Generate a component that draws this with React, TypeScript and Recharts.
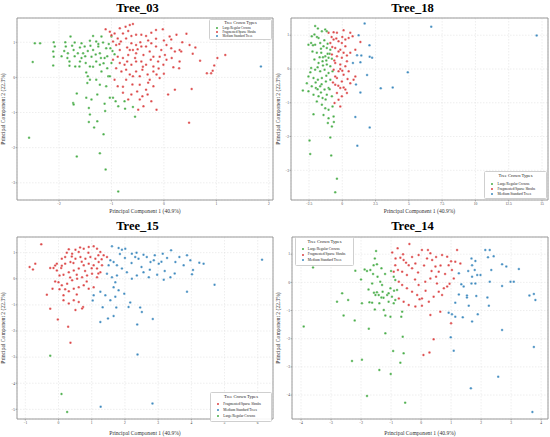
import { CartesianGrid, ReferenceArea, Scatter, ScatterChart, XAxis, YAxis } from "recharts";

type Pt = [number, number];

const CROWN_TYPES = ["Large/Regular Crowns", "Fragmented/Sparse Shrubs", "Medium Standard Trees"];
const TYPE_COLORS = ["#2ca02c", "#d62728", "#1f77b4"];
const X_LABEL = "Principal Component 1 (40.9%)";
const Y_LABEL = "Principal Component 2 (22.3%)";
const LEGEND_TITLE = "Tree Crown Types";

// Tree_03
const tree03Large: Pt[] = [
  [-2.46, 0.97], [-2.36, 0.97], [-2.5, 0.44], [-2.57, -1.72], [-2.1, 1.0], [-2.08, 0.88], [-2.11, 0.74],
  [-2.1, 0.59], [-2.11, 0.34], [-1.88, 1.0], [-1.87, 0.88], [-1.83, 0.69], [-1.84, 0.55], [-1.8, 0.45],
  [-1.8, 0.33], [-1.78, 1.16], [-1.7, 0.99], [-1.72, 0.78], [-1.64, 0.69], [-1.69, 0.31], [-1.61, 0.31],
  [-1.57, 0.97], [-1.57, 0.55], [-1.54, 0.69], [-1.51, 0.88], [-1.49, 0.41], [-1.48, 0.14], [-1.45, 0.03],
  [-1.46, -0.16], [-1.41, -0.07], [-1.41, 0.31], [-1.38, 0.59], [-1.35, 0.78], [-1.41, 1.04], [-1.35, 1.18],
  [-1.29, 1.02], [-1.25, 0.88], [-1.22, 0.69], [-1.29, 0.45], [-1.22, 0.36], [-1.19, 1.16], [-1.16, 0.99],
  [-1.1, 0.83], [-1.13, 0.55], [-1.19, 0.17], [-1.29, -0.07], [-1.22, -0.21], [-1.1, -0.25], [-1.06, 0.03],
  [-1.08, 0.26], [-1.0, 1.16], [-1.02, 0.83], [-0.94, 0.66], [-1.0, 0.41], [-1.03, 0.03], [-1.66, -0.46],
  [-1.73, -0.73], [-1.72, -0.77], [-1.48, -0.58], [-1.38, -0.63], [-1.27, -0.49], [-1.43, -0.87],
  [-1.41, -1.06], [-1.43, -1.27], [-1.33, -1.43], [-1.27, -1.25], [-1.13, -0.75], [-1.03, -0.58],
  [-0.97, -0.58], [-1.12, -0.96], [-0.92, -0.68], [-0.75, -0.68], [-0.74, -0.89], [-0.55, -1.12],
  [-0.59, -0.84], [-0.87, -0.82], [-1.15, -1.62], [-1.22, -2.16], [-1.66, -2.25], [-1.11, -2.62],
  [-0.87, -3.25], [-1.95, 0.6], [-1.9, 0.75], [-1.75, 0.9], [-1.6, 0.85], [-1.45, 0.75], [-1.3, 0.65],
  [-1.2, 0.55], [-1.15, 0.4], [-1.35, 0.3], [-1.05, 0.95], [-1.25, 0.95], [-1.4, 0.9], [-1.5, 0.6],
  [-1.6, 0.45], [-1.7, 0.6], [-0.98, 0.75], [-1.08, 0.6],
];
const tree03Frag: Pt[] = [
  [-1.11, 1.37], [-1.03, 1.3], [-0.94, 1.25], [-0.84, 1.4], [-0.73, 1.44], [-0.65, 1.49], [-0.59, 1.52],
  [-0.68, 1.32], [-0.78, 1.25], [-0.88, 1.11], [-0.97, 1.02], [-0.91, 0.92], [-0.82, 1.02], [-0.72, 1.11],
  [-0.62, 1.18], [-0.53, 1.21], [-0.43, 1.21], [-0.34, 1.18], [-0.24, 1.27], [-0.15, 1.35], [-0.02, 1.37],
  [0.11, 1.16], [0.24, 1.21], [0.43, 1.24], [0.49, 0.92], [0.3, 0.78], [0.14, 1.08], [0.05, 0.92],
  [0.14, 0.83], [0.21, 0.74], [0.33, 0.74], [0.55, 0.67], [0.69, 0.47], [0.82, 0.12], [0.9, 0.12],
  [0.93, 0.19], [0.96, 0.34], [1.02, 0.55], [1.17, 0.64], [0.53, -0.33], [0.21, -0.35], [0.08, -0.49],
  [0.18, 0.29], [0.29, 0.26], [0.48, -1.29], [-0.14, -0.92], [-0.39, -0.82], [-0.41, -0.54], [-0.34, -0.35],
  [-0.2, -0.25], [-0.08, -0.02], [-0.14, 0.08], [-0.27, -0.07], [-0.46, -0.21], [-0.51, -0.4], [-0.62, -0.49],
  [-0.78, -0.27], [-0.72, -0.07], [-0.59, 0.03], [-0.53, 0.17], [-0.41, 0.22], [-0.34, 0.36], [-0.2, 0.31],
  [-0.11, 0.45], [-0.08, 0.59], [-0.2, 0.59], [-0.27, 0.74], [-0.39, 0.64], [-0.53, 0.69], [-0.59, 0.78],
  [-0.68, 0.64], [-0.78, 0.55], [-0.84, 0.41], [-0.91, 0.26], [-0.81, 0.17], [-0.72, 0.22], [-0.62, 0.36],
  [-0.53, 0.45], [-0.43, 0.45], [-0.34, 0.88], [-0.24, 0.97], [-0.15, 0.88], [-0.05, 0.78], [0.02, 0.64],
  [-0.01, 0.36], [0.05, 0.5], [-0.43, 0.88], [-0.53, 0.92], [-0.62, 0.97], [-0.65, 0.78], [-0.84, 0.78],
  [-0.88, 0.59], [-0.97, 0.5], [-0.75, 0.36], [-0.65, 0.08], [-0.46, 0.03], [-0.31, 0.08], [-0.2, 0.17],
  [-0.94, -0.07], [-0.88, -0.25], [-0.78, -0.44], [-0.68, -0.63], [-0.46, -0.63], [-0.31, -0.49],
  [-0.24, -0.68], [-0.49, -0.92], [-0.45, 1.0], [-0.3, 1.05], [-0.15, 1.1], [0.0, 1.05], [0.35, 1.0],
  [0.6, 0.85], [0.15, 0.55], [0.3, 0.45], [-0.1, 0.25], [-0.4, 0.3], [-0.7, 0.45], [-0.55, 0.55],
  [-0.25, 0.5], [-0.6, -0.2], [-0.3, -0.15], [0.0, 0.1], [-1.0, 1.2], [-0.85, 0.95], [-0.7, 0.85], [-0.5, 0.8],
];
const tree03Medium: Pt[] = [[1.85, 0.31]];

// Tree_18
const tree18Large: Pt[] = [
  [-2.04, 1.27], [-1.83, 1.2], [-1.53, 1.12], [-1.28, 1.17], [-1.16, 1.12], [-2.29, 0.97], [-2.09, 1.02],
  [-1.78, 0.92], [-2.54, 0.72], [-2.34, 0.77], [-2.04, 0.72], [-1.66, 0.77], [-1.41, 0.67], [-1.16, 0.62],
  [-0.9, 0.57], [-2.24, 0.52], [-1.91, 0.48], [-1.58, 0.48], [-1.28, 0.38], [-1.03, 0.33], [-0.78, 0.3],
  [-2.09, 0.28], [-1.78, 0.18], [-1.48, 0.23], [-1.16, 0.13], [-0.9, 0.08], [-2.34, 0.03], [-2.04, -0.02],
  [-1.66, -0.07], [-1.33, -0.02], [-1.03, -0.12], [-0.73, -0.07], [-2.54, -0.22], [-2.16, -0.27],
  [-1.83, -0.32], [-1.53, -0.27], [-1.23, -0.37], [-0.9, -0.32], [-2.66, -0.42], [-2.29, -0.51],
  [-1.98, -0.56], [-1.66, -0.51], [-1.33, -0.61], [-1.03, -0.56], [-2.96, -0.64], [-2.54, -0.66],
  [-2.16, -0.76], [-1.78, -0.81], [-1.48, -0.86], [-1.16, -0.76], [-0.78, -0.81], [-1.91, -0.96],
  [-1.53, -1.06], [-1.28, -1.16], [-1.03, -1.21], [-0.73, -1.11], [-2.16, -1.34], [-1.41, -1.36],
  [-1.03, -1.46], [-0.65, -1.41], [-1.08, -1.6], [-0.78, -1.7], [-0.63, -1.57], [-0.9, -2.03],
  [-2.46, -2.12], [-2.41, -2.52], [-0.83, -2.56], [-0.4, -3.25], [-0.53, -3.65], [-1.9, 0.95],
  [-1.6, 0.6], [-1.35, 0.85], [-1.1, 0.75], [-0.95, 0.45], [-2.2, 0.7], [-1.45, 0.35], [-1.2, 0.25],
  [-1.7, 0.35], [-1.85, 0.05], [-1.45, 0.1], [-1.2, -0.2], [-2.0, -0.4], [-1.6, -0.7], [-1.25, -0.9],
  [-0.95, -0.6], [-2.4, -0.1], [-1.1, 0.45], [-1.55, -0.45], [-1.85, -0.6],
];
const tree18Frag: Pt[] = [
  [-1.03, 1.07], [-0.65, 1.09], [-0.4, 1.07], [0.1, 1.15], [0.6, 1.07], [0.78, 0.97], [1.36, 0.8],
  [0.98, 0.57], [-0.65, 0.87], [-0.28, 0.82], [-0.03, 0.77], [0.23, 0.67], [-0.53, 0.62], [-0.15, 0.57],
  [0.6, 0.48], [-0.78, 0.43], [-0.4, 0.38], [-0.03, 0.33], [0.35, 0.23], [-0.53, 0.18], [-0.15, 0.13],
  [-0.65, -0.02], [-0.28, -0.07], [0.1, -0.17], [0.85, -0.32], [-0.4, -0.27], [-0.03, -0.37],
  [-0.53, -0.47], [-0.15, -0.56], [0.23, -0.61], [-0.4, -0.71], [-0.03, -0.81], [0.35, -0.71],
  [-0.28, -0.91], [-0.58, -1.01], [-0.15, -1.11], [0.48, 0.92], [0.23, 0.87], [-0.9, 0.77], [0.1, 0.48],
  [-0.28, 0.52], [0.23, 0.08], [0.48, -0.07], [0.98, -0.22], [0.6, -0.42], [-0.53, -0.22], [-0.8, 0.95],
  [-0.45, 0.9], [0.0, 0.95], [0.35, 0.4], [-0.6, 0.25], [0.0, -0.05], [-0.15, 0.0], [0.4, -0.3],
  [-0.7, -0.4], [-0.3, -0.5], [0.1, -0.55], [-0.75, 0.65],
];
const tree18Medium: Pt[] = [
  [1.68, 1.35], [6.68, 1.25], [14.6, 0.99], [1.23, 1.0], [2.04, 0.7], [1.11, 0.41], [1.43, 0.4],
  [2.06, 0.36], [2.24, 0.33], [1.36, 0.2], [0.8, 0.18], [1.86, -0.18], [1.03, -0.46], [4.92, -0.1],
  [2.89, -0.57], [3.79, -0.55], [1.36, -0.7], [0.98, -1.42], [2.06, -1.73], [1.13, -2.27],
];

// Tree_15
const tree15Frag: Pt[] = [
  [-0.52, 1.32], [-0.87, 0.45], [-0.77, 0.36], [-0.7, 0.58], [-0.15, 0.41], [-0.1, 0.51], [-0.05, 0.58],
  [0.1, 0.77], [0.2, 0.83], [0.31, 1.13], [0.41, 0.96], [0.51, 1.11], [0.61, 1.03], [0.76, 1.15],
  [0.91, 1.22], [1.06, 1.25], [1.16, 1.15], [1.26, 1.03], [1.36, 0.9], [1.46, 0.83], [0.08, 0.41],
  [0.2, 0.58], [0.36, 0.64], [0.51, 0.77], [0.66, 0.83], [0.81, 0.77], [0.96, 0.83], [1.11, 0.77],
  [1.21, 0.64], [1.31, 0.52], [0.03, 0.13], [0.15, 0.15], [0.31, 0.25], [0.46, 0.32], [0.61, 0.39],
  [0.76, 0.52], [0.91, 0.58], [1.06, 0.52], [1.16, 0.39], [1.26, 0.25], [0.0, -0.13], [0.1, -0.25],
  [0.26, -0.19], [0.41, -0.06], [0.56, 0.0], [0.71, 0.06], [0.86, 0.13], [1.01, 0.19], [1.16, 0.06],
  [-0.18, -0.38], [-0.35, -0.61], [0.03, -0.4], [0.15, -0.63], [0.31, -0.48], [0.46, -0.38], [0.61, -0.32],
  [0.76, -0.25], [0.91, -0.38], [1.06, -0.32], [0.15, -0.82], [0.31, -0.95], [0.46, -0.82], [0.61, -0.89],
  [0.74, -1.08], [0.71, -1.14], [0.51, -1.2], [-0.25, -1.15], [-0.02, -1.56], [0.29, -1.84], [0.36, -2.45],
  [-0.25, 0.41], [-0.05, 0.32], [0.25, 1.0], [0.45, 0.6], [0.7, 0.65], [0.9, 1.0], [1.0, 0.4], [1.2, 0.9],
  [0.55, 0.15], [0.8, 0.3], [0.35, 0.05], [0.1, 0.5], [-0.1, -0.1], [0.2, -0.4], [0.55, -0.6], [0.85, -0.1],
  [1.2, 0.2], [1.3, 0.75], [0.65, 1.2], [0.4, 0.85],
];
const tree15Medium: Pt[] = [
  [1.61, 1.25], [1.81, 1.18], [1.91, 1.11], [2.01, 1.15], [2.21, 0.96], [2.31, 0.83], [2.41, 0.77],
  [2.56, 0.92], [2.66, 0.83], [2.77, 0.64], [2.87, 0.71], [3.02, 0.58], [3.14, 0.96], [3.27, 0.8],
  [3.39, 1.09], [3.52, 0.64], [3.64, 0.83], [3.77, 0.52], [3.87, 0.9], [3.97, 0.71], [4.05, 0.34],
  [4.24, 0.61], [4.37, 0.58], [6.13, 0.73], [4.7, -0.23], [3.87, -0.5], [4.02, 0.17], [3.37, 0.06],
  [3.17, -0.04], [2.97, 0.15], [2.72, 0.06], [2.56, 0.25], [2.36, 0.13], [2.21, 0.0], [2.06, 0.25],
  [1.91, 0.39], [1.76, 0.52], [1.66, 0.64], [1.56, 0.71], [1.51, 0.52], [1.46, 0.19], [1.61, 0.06],
  [1.76, 0.13], [1.71, -0.13], [1.66, -0.32], [1.81, -0.44], [1.71, -0.69], [1.56, -0.82], [1.41, -0.63],
  [1.26, -0.5], [1.06, -0.63], [1.03, -0.83], [1.33, -1.09], [1.49, -1.52], [1.26, -1.66], [1.66, -1.43],
  [1.74, -1.1], [1.98, -0.57], [2.11, -1.08], [2.16, -0.91], [2.46, -1.1], [2.51, -1.27], [2.84, -1.54],
  [2.37, -1.75], [2.38, -2.9], [1.27, -4.9], [2.83, -4.78], [2.2, 0.6], [2.5, 0.45], [2.9, 0.9],
  [3.2, 0.3], [3.5, 0.2], [2.0, 0.8], [1.85, 0.95], [2.35, 1.0], [2.75, 0.35], [3.1, 0.65],
];
const tree15Large: Pt[] = [[-0.25, -2.95], [0.09, -4.41], [0.26, -5.1]];

// Tree_14
const tree14Large: Pt[] = [
  [-3.91, -1.57], [-3.6, 0.53], [-2.8, -0.69], [-2.63, -0.39], [-2.43, -0.63], [-2.58, -1.18], [-2.21, -1.35],
  [-2.19, 0.41], [-2.3, -2.79], [-1.97, -2.75], [-1.97, -0.74], [-1.88, 0.46], [-1.8, 0.4], [-1.72, -0.71],
  [-1.74, -1.65], [-1.69, 0.44], [-1.63, -0.04], [-1.58, 0.61], [-1.54, 0.85], [-1.5, 1.11], [-1.47, 0.64],
  [-1.57, -0.37], [-1.47, -0.35], [-1.41, -0.45], [-1.54, -0.96], [-1.63, -0.72], [-1.39, -0.74],
  [-1.32, 0.5], [-1.3, -0.09], [-1.28, -0.33], [-1.32, -0.54], [-1.24, -0.98], [-1.19, -1.18],
  [-1.08, -0.69], [-1.02, -0.21], [-0.97, -0.51], [-0.91, -0.74], [-0.86, 0.08], [-0.91, 0.2],
  [-1.02, -1.22], [-1.19, -1.81], [-0.93, -2.44], [-0.69, -2.85], [-0.58, -2.52], [-0.61, -1.93],
  [-0.63, -1.04], [-0.66, -1.22], [-1.39, -3.11], [-1.01, -3.25], [-1.8, -4.03], [-0.53, -4.27],
  [-1.52, -0.45], [-1.13, -0.45], [-1.36, 0.02], [-1.08, -0.39], [-0.86, -0.63], [-0.8, -0.27],
  [-1.45, 0.2], [-1.2, 0.3], [-1.6, 0.3], [-1.75, -0.25], [-1.25, -0.55], [-1.0, 0.4], [-0.9, -0.3], [-2.0, 0.1],
];
const tree14Frag: Pt[] = [
  [-0.96, 1.06], [-0.78, 1.21], [-0.39, 1.36], [-0.69, 0.87], [-0.58, 0.79], [-0.41, 0.61], [-0.86, 0.61],
  [-0.77, 0.44], [-0.91, 0.38], [-0.63, 0.38], [-0.47, 0.26], [-0.3, 0.5], [-0.19, 0.67], [-0.08, 0.97],
  [0.03, 1.15], [0.23, 1.15], [0.31, 1.03], [0.37, 0.79], [0.48, 0.56], [0.59, 0.38], [0.7, 0.97],
  [0.87, 0.91], [0.92, 0.61], [1.03, 0.44], [1.2, 1.15], [1.14, 0.73], [1.31, 0.67], [1.09, 0.14],
  [0.87, -0.15], [0.76, -0.21], [0.59, -0.33], [0.42, -0.51], [0.26, -0.69], [0.03, -0.57], [-0.13, -0.45],
  [-0.3, -0.33], [-0.47, -0.21], [-0.63, -0.09], [-0.74, 0.02], [-0.08, -0.09], [0.14, 0.02], [0.31, 0.14],
  [0.53, -0.04], [-0.41, -0.8], [-0.19, -0.86], [0.03, -0.83], [0.31, -1.16], [0.64, -1.04], [0.42, -2.02],
  [0.08, -2.58], [0.28, -2.49], [1.0, -1.45], [0.7, -0.45], [-0.58, -0.69], [-0.74, -0.57], [-0.6, 1.0],
  [-0.3, 0.9], [-0.1, 0.35], [0.1, 0.6], [0.2, 0.85], [0.5, 0.9], [0.8, 0.3], [1.0, 0.75], [-0.2, 0.1],
  [0.15, -0.3], [0.5, 0.2], [0.95, -0.05], [-0.5, 0.7], [0.65, 0.6], [-0.85, 0.85], [0.35, 0.4], [-0.05, -0.6],
];
const tree14Medium: Pt[] = [
  [1.34, -0.07], [1.42, -0.15], [1.26, -0.43], [1.14, -0.72], [0.92, -1.08], [1.03, -1.13], [1.14, -1.22],
  [1.39, -1.24], [1.53, -0.47], [1.53, -0.54], [1.59, -0.83], [1.68, 0.85], [1.7, 0.61], [1.81, 0.76],
  [1.79, 0.44], [1.7, 0.2], [1.68, -0.04], [1.81, -0.04], [1.87, 0.26], [1.98, 0.26], [1.84, -0.48],
  [1.89, -1.13], [1.7, -1.39], [1.57, 0.4], [2.14, 1.15], [2.29, 1.15], [2.42, 0.93], [2.23, 0.89],
  [2.34, 0.44], [2.29, 0.02], [2.21, -0.54], [2.26, -0.83], [2.7, 0.64], [2.84, 0.56], [2.7, -0.13],
  [2.7, -1.69], [2.98, 0.02], [3.09, 0.02], [3.26, 0.47], [3.61, -0.47], [3.76, -0.41], [3.81, -0.63],
  [3.76, -2.29], [2.57, -3.35], [1.66, -3.76], [0.99, -1.95], [1.09, -2.43], [3.71, -4.6], [1.26, 0.32],
];

const tree03X = [-2, -1, 0, 1, 2];
const tree03Y = [-3, -2, -1, 0, 1];
const tree18X = [-2.5, 0, 2.5, 5, 7.5, 10, 12.5, 15];
const tree18Y = [-3, -2, -1, 0, 1];
const tree15X = [-1, 0, 1, 2, 3, 4, 5, 6];
const tree15Y = [-5, -4, -3, -2, -1, 0, 1];
const tree14X = [-4, -3, -2, -1, 0, 1, 2, 3, 4];
const tree14Y = [-4, -3, -2, -1, 0, 1];

const FONT = "'Liberation Serif', 'Times New Roman', serif";

const toRows = (pts: Pt[]) => pts.map(([x, y]) => ({ x, y }));
const fmt = (v: number) => String(v).replace("-", "\u2212");

type LegendBox = {
  left: number;
  top: number;
  width: number;
  pad: number;
  titleSize: number;
  titleLh: number;
  gap: number;
  itemSize: number;
  itemLh: number;
};

type PanelProps = {
  title: string;
  left: number;
  top: number;
  height: number;
  plotTop: number;
  titleY: number;
  yAxisWidth: number;
  xAxisHeight: number;
  series: Pt[][]; // indexed like CROWN_TYPES
  order: number[];
  xDomain: [number, number];
  yDomain: [number, number];
  xTicks: number[];
  yTicks: number[];
  legend: LegendBox;
};

function Dot(props: any) {
  const { cx, cy, fill } = props;
  if (cx == null || cy == null) return null;
  return <circle cx={cx} cy={cy} r={1.25} fill={fill} fillOpacity={0.85} stroke="#fff" strokeWidth={0.3} />;
}

function Panel(p: PanelProps) {
  const width = 275;
  const tickStyle = { fontSize: 3.6, fill: "#444", fontFamily: FONT };
  const lg = p.legend;
  return (
    <div style={{ position: "absolute", left: p.left, top: p.top, width, height: p.height }}>
      <div
        style={{
          position: "absolute",
          left: 0,
          width,
          top: p.titleY - 7,
          height: 14,
          lineHeight: "14px",
          textAlign: "center",
          fontWeight: "bold",
          fontSize: 12.5,
          color: "#000",
        }}
      >
        {p.title}
      </div>
      <ScatterChart width={width} height={p.height} margin={{ top: p.plotTop, right: 2, left: 0, bottom: 0 }}>
        <CartesianGrid strokeDasharray="1.5 1.5" stroke="#dcdcdc" strokeWidth={0.5} />
        <XAxis
          type="number"
          dataKey="x"
          domain={p.xDomain}
          ticks={p.xTicks}
          interval={0}
          allowDataOverflow
          height={p.xAxisHeight}
          axisLine={false}
          tickSize={1.5}
          tickMargin={0.5}
          tickLine={{ stroke: "#555", strokeWidth: 0.4 }}
          tick={tickStyle}
          tickFormatter={fmt}
          label={{ value: X_LABEL, position: "insideBottom", offset: 2, style: { fontSize: 5.6, fill: "#333", fontFamily: FONT } }}
        />
        <YAxis
          type="number"
          dataKey="y"
          domain={p.yDomain}
          ticks={p.yTicks}
          interval={0}
          allowDataOverflow
          width={p.yAxisWidth}
          axisLine={false}
          tickSize={1.5}
          tickMargin={0.5}
          tickLine={{ stroke: "#555", strokeWidth: 0.4 }}
          tick={tickStyle}
          tickFormatter={fmt}
          label={{
            value: Y_LABEL,
            angle: -90,
            position: "insideLeft",
            offset: 3,
            style: { fontSize: 5.6, fill: "#333", fontFamily: FONT, textAnchor: "middle" },
          }}
        />
        {p.order.map((k) => (
          <Scatter
            key={CROWN_TYPES[k]}
            name={CROWN_TYPES[k]}
            data={toRows(p.series[k])}
            fill={TYPE_COLORS[k]}
            shape={<Dot />}
            isAnimationActive={false}
          />
        ))}
        <ReferenceArea
          x1={p.xDomain[0]}
          x2={p.xDomain[1]}
          y1={p.yDomain[0]}
          y2={p.yDomain[1]}
          fill="none"
          stroke="#9a9a9a"
          strokeWidth={1}
          ifOverflow="visible"
        />
      </ScatterChart>
      <div
        style={{
          position: "absolute",
          left: lg.left,
          top: lg.top,
          width: lg.width,
          boxSizing: "border-box",
          padding: `${lg.pad}px 0 ${lg.pad + 0.8}px 0`,
          background: "rgba(255,255,255,0.9)",
          border: "0.5px solid #cfcfcf",
          borderRadius: 1.5,
          color: "#222",
        }}
      >
        <div style={{ fontSize: lg.titleSize, lineHeight: `${lg.titleLh}px`, textAlign: "center", marginBottom: lg.gap }}>
          {LEGEND_TITLE}
        </div>
        {p.order.map((k) => (
          <div key={k} style={{ display: "flex", alignItems: "center", height: lg.itemLh, paddingLeft: lg.width * 0.1 }}>
            <span
              style={{
                display: "inline-block",
                width: 1.8,
                height: 1.8,
                borderRadius: "50%",
                background: TYPE_COLORS[k],
                opacity: 0.85,
                marginRight: lg.width * 0.07,
              }}
            />
            <span style={{ fontSize: lg.itemSize, lineHeight: `${lg.itemLh}px`, whiteSpace: "nowrap" }}>{CROWN_TYPES[k]}</span>
          </div>
        ))}
      </div>
    </div>
  );
}

export default function App() {
  return (
    <div
      style={{
        position: "fixed",
        left: 0,
        top: 0,
        width: 550,
        height: 437,
        background: "#fff",
        fontFamily: FONT,
        overflow: "hidden",
      }}
    >
      <Panel
        title="Tree_03"
        left={0}
        top={0}
        height={215}
        plotTop={18}
        titleY={8}
        yAxisWidth={17}
        xAxisHeight={15}
        series={[tree03Large, tree03Frag, tree03Medium]}
        order={[0, 1, 2]}
        xDomain={[-2.8, 2.08]}
        yDomain={[-3.49, 1.69]}
        xTicks={tree03X}
        yTicks={tree03Y}
        legend={{ left: 209, top: 19, width: 63, pad: 0.5, titleSize: 4.4, titleLh: 4.5, gap: 1, itemSize: 3.1, itemLh: 4 }}
      />
      <Panel
        title="Tree_18"
        left={275}
        top={0}
        height={215}
        plotTop={18}
        titleY={8}
        yAxisWidth={16}
        xAxisHeight={15}
        series={[tree18Large, tree18Frag, tree18Medium]}
        order={[0, 1, 2]}
        xDomain={[-3.85, 15.45]}
        yDomain={[-3.88, 1.51]}
        xTicks={tree18X}
        yTicks={tree18Y}
        legend={{ left: 209, top: 171, width: 63, pad: 0.5, titleSize: 4.6, titleLh: 5.5, gap: 3.5, itemSize: 3.5, itemLh: 5 }}
      />
      <Panel
        title="Tree_15"
        left={0}
        top={215}
        height={222}
        plotTop={22}
        titleY={11}
        yAxisWidth={17}
        xAxisHeight={18}
        series={[tree15Large, tree15Frag, tree15Medium]}
        order={[1, 2, 0]}
        xDomain={[-1.25, 6.46]}
        yDomain={[-5.37, 1.6]}
        xTicks={tree15X}
        yTicks={tree15Y}
        legend={{ left: 210, top: 177, width: 62, pad: 1, titleSize: 4.6, titleLh: 6, gap: 1, itemSize: 3.5, itemLh: 6 }}
      />
      <Panel
        title="Tree_14"
        left={275}
        top={215}
        height={222}
        plotTop={22}
        titleY={11}
        yAxisWidth={17}
        xAxisHeight={18}
        series={[tree14Large, tree14Frag, tree14Medium]}
        order={[0, 1, 2]}
        xDomain={[-4.3, 4.23]}
        yDomain={[-4.85, 1.61]}
        xTicks={tree14X}
        yTicks={tree14Y}
        legend={{ left: 20, top: 22, width: 59, pad: 1, titleSize: 4.6, titleLh: 6, gap: 1.5, itemSize: 3.5, itemLh: 5.5 }}
      />
    </div>
  );
}
